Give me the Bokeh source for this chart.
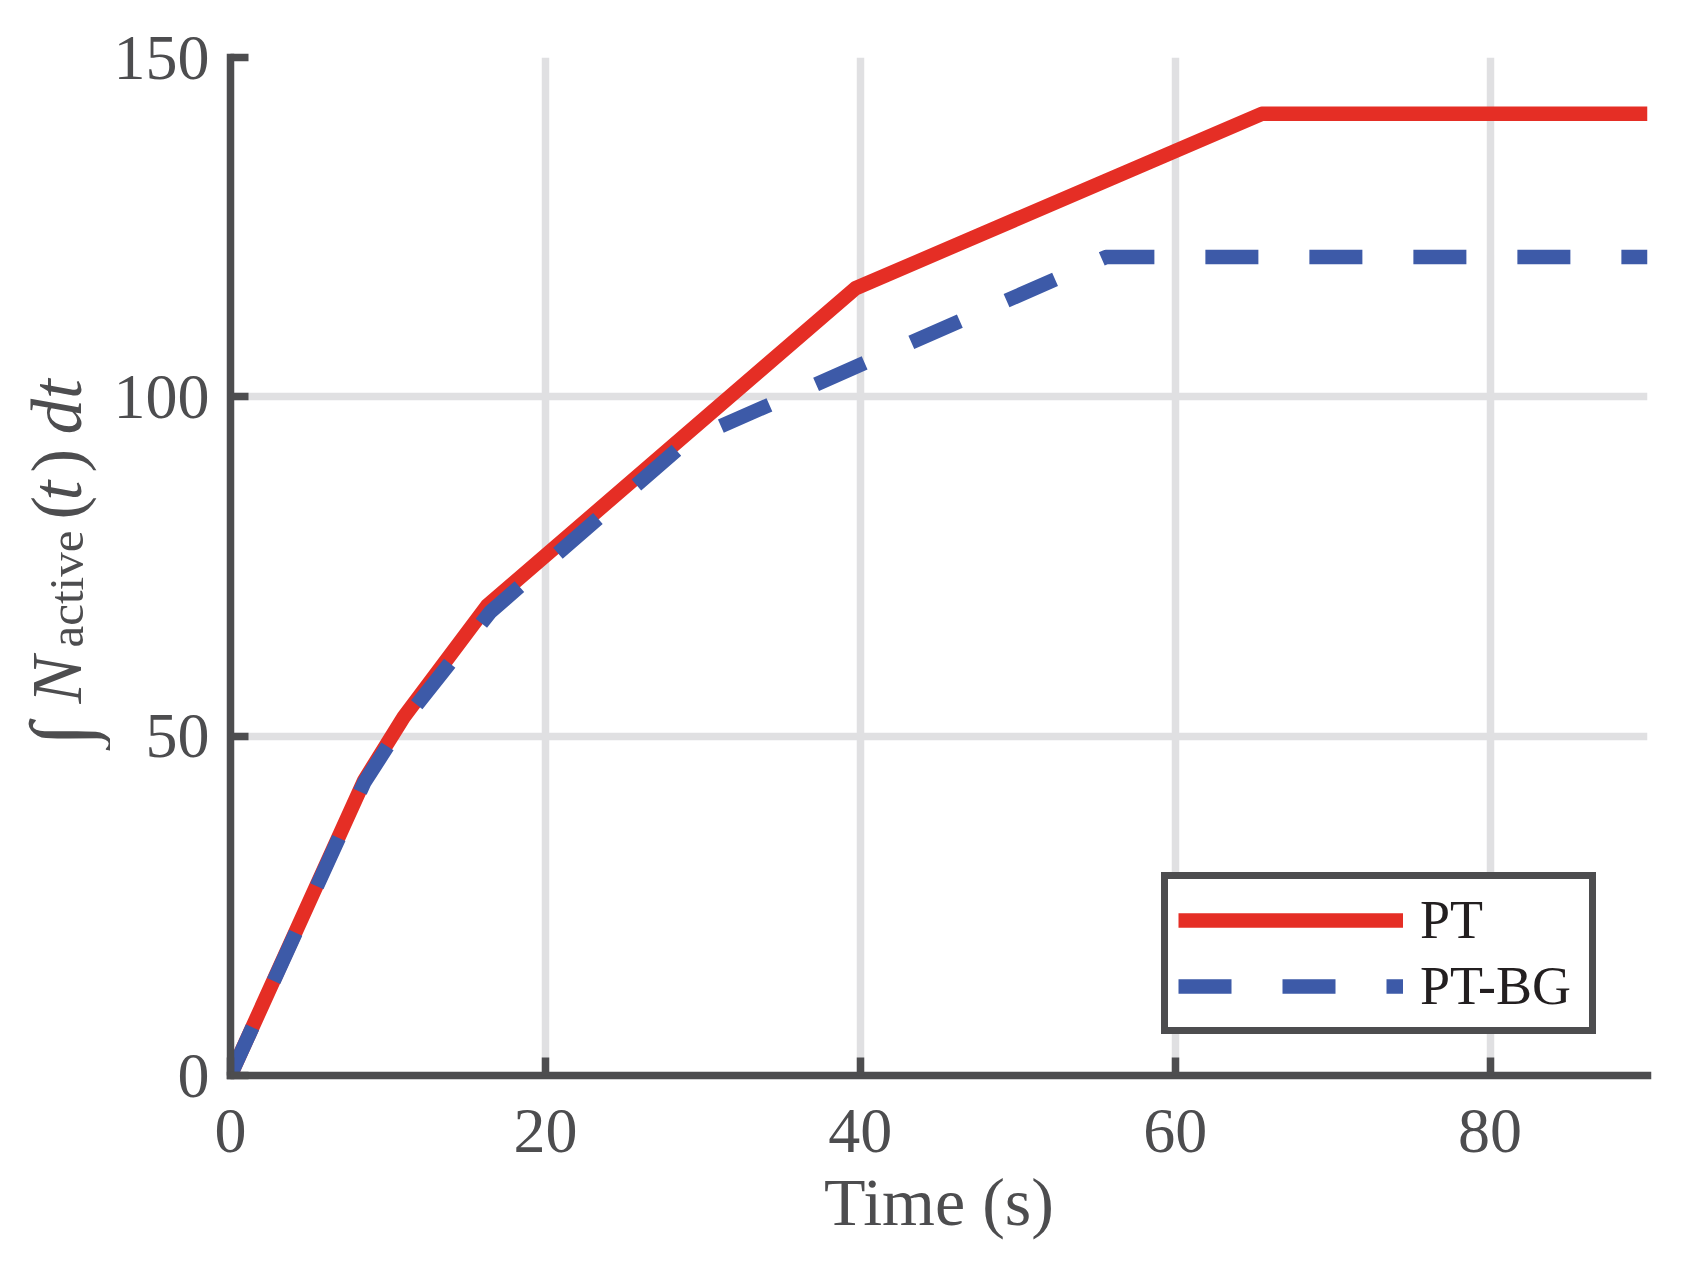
import math
from bokeh.plotting import figure
from bokeh.layouts import row
from bokeh.models import Range1d, Legend, LegendItem
from bokeh.core.properties import value
from bokeh.embed import file_html
from bokeh.resources import INLINE

# ---- data ----
time_pt = [0.0, 8.5, 11.0, 16.3, 39.7, 65.5, 90.0]
integral_pt = [0.0, 43.5, 52.8, 69.2, 116.0, 141.7, 141.7]
time_ptbg = [0.0, 8.5, 11.0, 16.5, 29.0, 55.6, 90.0]
integral_ptbg = [0.0, 43.2, 52.2, 68.3, 93.5, 120.6, 120.6]
x_ticks = [0, 20, 40, 60, 80]
y_ticks = [0, 50, 100, 150]
series_names = ["PT", "PT-BG"]
x_title = "Time (s)"

FONT = "Liberation Serif"
AXIS = "#4D4D4F"
RED = "#E52E25"
BLUE = "#3D5AA8"

H = 1250
TW = 110          # width of the strip holding the y title
TOP, BOTTOM = 57, 175

p = figure(width=1678 - TW, height=H,
           x_range=Range1d(0, 90), y_range=Range1d(0, 150),
           output_backend="svg", toolbar_location=None,
           min_border_left=228 - TW, min_border_right=31,
           min_border_top=TOP, min_border_bottom=BOTTOM)
p.outline_line_color = None
p.background_fill_color = "white"
p.border_fill_color = "white"

p.xaxis.ticker = x_ticks
p.yaxis.ticker = y_ticks
p.xgrid.ticker = x_ticks
p.ygrid.ticker = y_ticks

for g in (p.xgrid[0], p.ygrid[0]):
    g.grid_line_color = "#E0E0E2"
    g.grid_line_width = 7.5

for ax in (p.xaxis[0], p.yaxis[0]):
    ax.axis_line_color = AXIS
    ax.axis_line_width = 7.5
    ax.axis_line_cap = "square"
    ax.major_tick_line_color = AXIS
    ax.major_tick_line_width = 7.5
    ax.major_tick_in = 18
    ax.major_tick_out = 0
    ax.minor_tick_line_color = None
    ax.major_label_text_font = FONT
    ax.major_label_text_font_size = "64px"
    ax.major_label_text_color = AXIS

p.xaxis.major_label_standoff = 34
p.yaxis.major_label_standoff = 21
p.xaxis.axis_label = x_title
p.xaxis.axis_label_text_font = FONT
p.xaxis.axis_label_text_font_size = "68px"
p.xaxis.axis_label_text_font_style = "normal"
p.xaxis.axis_label_text_color = AXIS
p.xaxis.axis_label_standoff = 9

r_pt = p.line(time_pt, integral_pt, line_color=RED, line_width=14.5,
              line_join="round")
r_bg = p.line(time_ptbg, integral_ptbg, line_color=BLUE, line_width=14.5,
              line_dash="53 51", line_join="round")

legend = Legend(items=[LegendItem(label=series_names[0], renderers=[r_pt]),
                       LegendItem(label=series_names[1], renderers=[r_bg])],
                location=(931, 41), orientation="vertical",
                padding=10, spacing=4, margin=0,
                glyph_width=225, glyph_height=40, label_height=40,
                label_width=159, label_standoff=17,
                border_line_color=AXIS, border_line_width=7.5,
                border_line_alpha=1.0,
                background_fill_color="white", background_fill_alpha=1.0,
                label_text_font=FONT, label_text_font_size="54px",
                label_text_color="#231F20")
p.add_layout(legend)

# ---- y-axis title strip: ∫ N_active(t) dt (rotated, reading upward) ----
t = figure(width=TW, height=H, x_range=Range1d(0, TW),
           y_range=Range1d(BOTTOM, H - TOP),
           output_backend="svg", toolbar_location=None,
           x_axis_type=None, y_axis_type=None,
           min_border_left=0, min_border_right=0,
           min_border_top=TOP, min_border_bottom=BOTTOM)
t.outline_line_color = None
t.xgrid.visible = False
t.ygrid.visible = False
t.background_fill_color = "white"
t.border_fill_color = "white"

XB = 56     # main baseline (px, after rotated-text offset)
XS = 66     # subscript baseline
pieces = [
    ("\u222B", XB + 4, 746, "italic", "86px"),
    ("N", XB, 703, "italic", "71px"),
    ("active", XS, 647, "normal", "49px"),
    ("(", XB, 519, "normal", "71px"),
    ("t", XB, 500, "italic", "71px"),
    (")", XB, 472, "normal", "71px"),
    ("dt", XB, 434, "italic", "71px"),
]
for txt, xx, yy, style, size in pieces:
    t.text(x=[xx], y=[H - yy], text=[txt], angle=math.pi / 2,
           text_font=value(FONT), text_font_style=value(style),
           text_font_size=value(size), text_color=AXIS,
           text_align=value("left"), text_baseline=value("alphabetic"))

layout = row(t, p, spacing=0)
open("out.html", "w").write(file_html(layout, INLINE))
